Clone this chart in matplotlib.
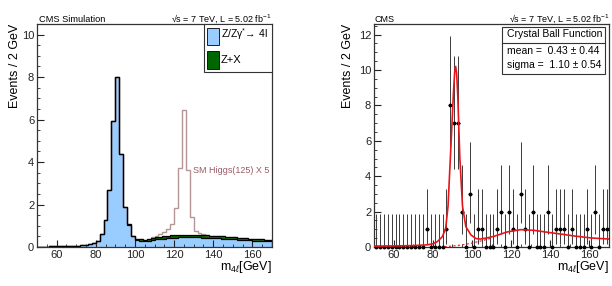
import numpy as np
import matplotlib
matplotlib.use('Agg')
import matplotlib.pyplot as plt
from matplotlib.ticker import MultipleLocator
from matplotlib.patches import Rectangle

plt.rcParams['font.family'] = ['Liberation Sans', 'DejaVu Sans']
plt.rcParams['mathtext.fontset'] = 'custom'
plt.rcParams['mathtext.rm'] = 'Liberation Sans'
plt.rcParams['mathtext.it'] = 'Liberation Sans:italic'
plt.rcParams['mathtext.bf'] = 'Liberation Sans:bold'

# 2 GeV bins from 50 to 170
edges = np.arange(50, 172, 2)
centers = edges[:-1] + 1

# left: simulated stack
zz = [0.02, 0.02, 0.02, 0.03, 0.03, 0.03, 0.04, 0.04, 0.05, 0.05,
      0.06, 0.08, 0.10, 0.14, 0.20, 0.30, 0.60, 1.25, 2.70, 5.95,
      8.00, 4.40, 1.90, 1.05, 0.50, 0.33, 0.30, 0.27, 0.30, 0.33,
      0.36, 0.38, 0.40, 0.42, 0.43, 0.44, 0.45, 0.45, 0.45, 0.46,
      0.45, 0.45, 0.44, 0.44, 0.43, 0.42, 0.41, 0.40, 0.38, 0.37,
      0.36, 0.34, 0.33, 0.32, 0.31, 0.30, 0.29, 0.28, 0.27, 0.26]
zx = [0, 0, 0, 0, 0, 0, 0, 0, 0, 0,
      0, 0, 0, 0, 0, 0, 0, 0, 0, 0,
      0, 0, 0, 0.02, 0.04, 0.05, 0.06, 0.07, 0.08, 0.09,
      0.10, 0.11, 0.12, 0.12, 0.12, 0.12, 0.12, 0.12, 0.12, 0.12,
      0.12, 0.12, 0.12, 0.11, 0.11, 0.11, 0.10, 0.10, 0.10, 0.10,
      0.09, 0.09, 0.09, 0.09, 0.08, 0.08, 0.08, 0.08, 0.08, 0.08]
higgs_x5 = [0, 0, 0, 0, 0, 0, 0, 0, 0, 0,
            0, 0, 0, 0, 0, 0, 0, 0, 0, 0,
            0, 0, 0, 0, 0, 0, 0, 0, 0.02, 0.03,
            0.05, 0.10, 0.17, 0.30, 0.55, 1.28, 3.15, 5.90, 3.05, 0.83,
            0.18, 0.07, 0.03, 0, 0, 0, 0, 0, 0, 0,
            0, 0, 0, 0, 0, 0, 0, 0, 0, 0]

# right: observed counts and fitted curve
counts = [0, 0, 0, 0, 0, 0, 0, 0, 0, 0,
          0, 0, 0, 1, 0, 0, 0, 0, 1, 8,
          7, 7, 2, 0, 3, 0, 1, 1, 0, 0,
          0, 1, 2, 0, 2, 1, 0, 3, 1, 0,
          2, 0, 0, 0, 2, 0, 1, 1, 1, 0,
          1, 0, 0, 0, 1, 0, 2, 0, 1, 1]
# 68% Poisson (Garwood) intervals for n = 0..8
pois_lo = [0.0, 0.173, 0.708, 1.367, 2.086, 2.840, 3.620, 4.419, 5.232]
pois_hi = [1.841, 3.300, 4.638, 5.918, 7.163, 8.382, 9.584, 10.77, 11.95]

fit_mass = [50, 60, 70, 77, 80, 82.3, 84.9, 86.6, 87.8, 89.2, 90.6, 91.2, 91.7,
            92.2, 92.8, 93.8, 95.2, 96.9, 99.5, 102, 104.3, 108, 111.2, 118,
            124.9, 131.8, 138.7, 145.5, 152.4, 161, 170]
fit_vals = [0.05, 0.06, 0.08, 0.12, 0.18, 0.30, 0.58, 1.05, 2.3, 5.5, 8.8, 9.9, 10.2,
            9.8, 8.5, 5.1, 2.3, 1.15, 0.68, 0.48, 0.45, 0.52, 0.60, 0.85,
            0.98, 0.94, 0.83, 0.73, 0.62, 0.51, 0.45]
bkg_mass = [86, 90, 95, 100, 103, 106, 110]
bkg_vals = [0.02, 0.05, 0.12, 0.22, 0.30, 0.38, 0.50]

blue = '#99ccff'
green = '#006600'
rosy = '#b59595'
red = '#e8141a'

fig = plt.figure(figsize=(6.12, 2.86), dpi=100)
axL = fig.add_axes([37 / 612, 39 / 286, 235 / 612, 223 / 286])
axR = fig.add_axes([374 / 612, 39 / 286, 235 / 612, 223 / 286])


def style(ax, ymax, ystep):
    ax.set_xlim(50, 170)
    ax.set_ylim(0, ymax)
    ax.xaxis.set_major_locator(MultipleLocator(20))
    ax.xaxis.set_minor_locator(MultipleLocator(5))
    ax.yaxis.set_major_locator(MultipleLocator(ystep))
    ax.yaxis.set_minor_locator(MultipleLocator(0.5))
    ax.tick_params(which='both', direction='in', top=False, right=False,
                   labelsize=8, pad=2, colors='#222222')
    ax.tick_params(which='major', length=5, width=0.8)
    ax.tick_params(which='minor', length=2.5, width=0.6)
    for s in ax.spines.values():
        s.set_linewidth(0.9)
        s.set_color('#333333')
    ax.set_ylabel('Events / 2 GeV', fontsize=9, loc='top')
    ax.set_xlabel(r'm$_{4\ell}$[GeV]', fontsize=9, loc='right')
    ax.xaxis.set_label_coords(1.0, -0.055)


# ---- left panel ----
zz = np.array(zz)
zx = np.array(zx)
bg = zz + zx
total = bg + np.array(higgs_x5)

axL.stairs(zz, edges, fill=True, color=blue, zorder=1)
axL.stairs(bg, edges, baseline=zz, fill=True, color=green, zorder=1.5)
axL.stairs(total, edges, color=rosy, lw=1.0, baseline=None, zorder=2)
axL.stairs(zz, edges, color='black', lw=0.9, zorder=3)
axL.stairs(bg, edges, color='black', lw=0.9, baseline=None, zorder=3)
style(axL, 10.5, 2)
axL.yaxis.set_label_coords(-0.07, 1.0)

axL.text(129.5, 3.6, 'SM Higgs(125) X 5', fontsize=6.5, color='#9a5a64',
         va='center')

# legend box
axL.add_patch(Rectangle((0.711, 0.785), 0.289, 0.215, transform=axL.transAxes,
                        facecolor='white', edgecolor='#333333', lw=0.8,
                        zorder=5))
axL.add_patch(Rectangle((0.723, 0.905), 0.05, 0.078, transform=axL.transAxes,
                        facecolor=blue, edgecolor='black', lw=0.6, zorder=6))
axL.add_patch(Rectangle((0.723, 0.800), 0.05, 0.077, transform=axL.transAxes,
                        facecolor=green, edgecolor='black', lw=0.6, zorder=6))
axL.text(0.783, 0.955, 'Z/Z\u03b3$^{*}$\u2192 4l', transform=axL.transAxes,
         fontsize=7.5, va='center', zorder=7)
axL.text(0.783, 0.838, 'Z+X', transform=axL.transAxes, fontsize=8,
         va='center', zorder=7)

axL.text(0.008, 1.022, 'CMS Simulation', transform=axL.transAxes,
         fontsize=6.7, va='center')
axL.text(1.0, 1.022, '\u221as = 7 TeV, L = 5.02 fb$^{-1}$',
         transform=axL.transAxes, fontsize=6.5, va='center', ha='right')

# ---- right panel ----
counts = np.array(counts)
ylo = counts - np.array(pois_lo)[counts]
yhi = np.array(pois_hi)[counts] - counts
axR.errorbar(centers, counts, yerr=[ylo, yhi], xerr=1, fmt='o', ms=1.8,
             color='black', ecolor='#3a3a3a', elinewidth=0.7, capsize=0,
             zorder=3, clip_on=False)
axR.plot(bkg_mass, bkg_vals, color=red, lw=0.8, ls=(0, (2, 2)), zorder=4)
axR.plot(fit_mass, fit_vals, color=red, lw=1.2, zorder=5)
style(axR, 12.6, 2)
axR.yaxis.set_label_coords(-0.084, 1.0)

axR.add_patch(Rectangle((0.545, 0.776), 0.438, 0.211, transform=axR.transAxes,
                        facecolor='white', edgecolor='#333333', lw=0.8,
                        zorder=6))
axR.plot([0.545, 0.983], [0.915, 0.915], transform=axR.transAxes,
         color='#333333', lw=0.8, zorder=7)
axR.text(0.566, 0.953, 'Crystal Ball Function', transform=axR.transAxes,
         fontsize=7.5, va='center', zorder=7)
axR.text(0.566, 0.879, 'mean =  0.43 \u00b1 0.44', transform=axR.transAxes,
         fontsize=7.5, va='center', zorder=7)
axR.text(0.566, 0.816, 'sigma =  1.10 \u00b1 0.54', transform=axR.transAxes,
         fontsize=7.5, va='center', zorder=7)

axR.text(0.0, 1.022, 'CMS', transform=axR.transAxes, fontsize=6.5,
         va='center')
axR.text(1.004, 1.022, '\u221as = 7 TeV, L = 5.02 fb$^{-1}$',
         transform=axR.transAxes, fontsize=6.5, va='center', ha='right')

fig.savefig('out.png', dpi=100)
